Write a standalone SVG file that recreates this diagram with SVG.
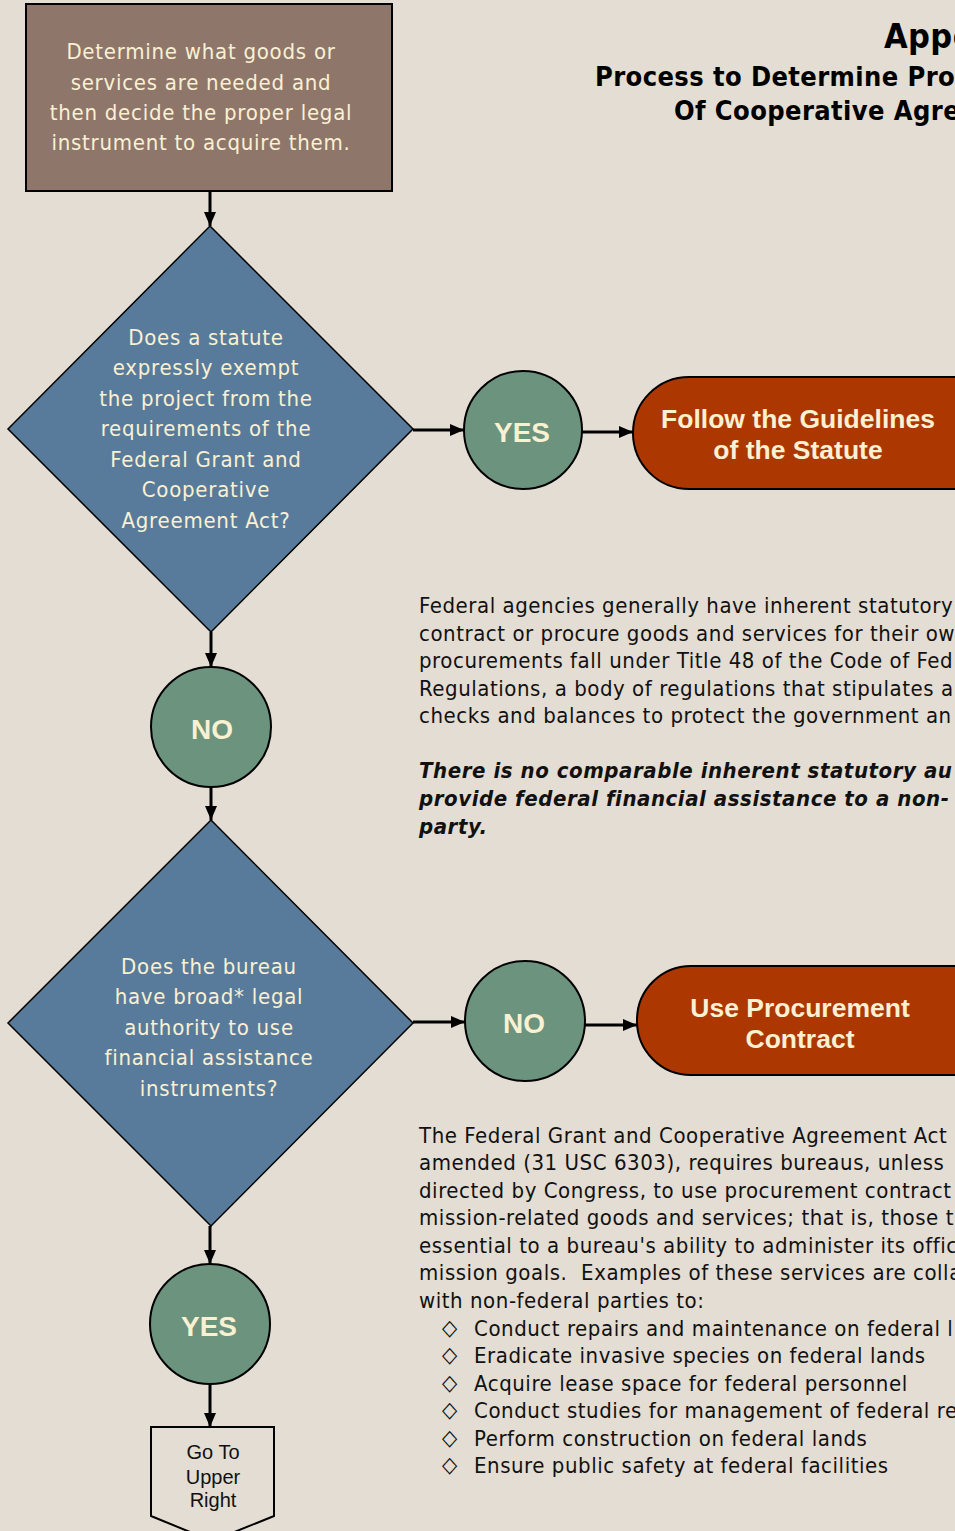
<svg xmlns="http://www.w3.org/2000/svg" width="955" height="1531" viewBox="0 0 955 1531">
<defs>
<marker id="ah" markerWidth="14" markerHeight="12" refX="14" refY="6" orient="auto" markerUnits="userSpaceOnUse">
<path d="M0,0 L14,6 L0,12 Z" fill="#000"/>
</marker>
<style>
.bg{fill:#E4DDD3}
.box{fill:#8E766B;stroke:#000;stroke-width:2}
.dia{fill:#587B9B;stroke:#000;stroke-width:1.5}
.cir{fill:#6C937D;stroke:#000;stroke-width:2}
.term{fill:#AD3700;stroke:#000;stroke-width:2}
.off{fill:#E4DDD3;stroke:#000;stroke-width:2}
.cream{fill:#FAF0D2;font-family:"DejaVu Sans Condensed","DejaVu Sans",sans-serif;font-size:22px;letter-spacing:0.75px;text-anchor:middle}
.cb{fill:#FAF0D2;font-family:"Liberation Sans",Arial,sans-serif;font-weight:bold;text-anchor:middle}
.body{fill:#111;font-family:"DejaVu Sans Condensed","DejaVu Sans",sans-serif;font-size:22px;letter-spacing:0.55px}
.bi{font-weight:bold;font-style:italic}
.title{fill:#000;font-family:"DejaVu Sans Condensed","DejaVu Sans",sans-serif;font-weight:bold;letter-spacing:0.4px}
.conn line{stroke:#000;stroke-width:3;marker-end:url(#ah)}
.go{fill:#111;font-family:"Liberation Sans",Arial,sans-serif;font-size:20px;text-anchor:middle}
</style>
</defs>
<rect class="bg" x="0" y="0" width="955" height="1531"/>

<g id="title">
<text class="title" x="884" y="48" font-size="34">Appe</text>
<text class="title" x="595" y="86" font-size="27">Process to Determine Pro</text>
<text class="title" x="674" y="120" font-size="27">Of Cooperative Agre</text>
</g>

<g id="start">
<rect class="box" x="26" y="4" width="366" height="187"/>
<text class="cream"><tspan x="201" y="59">Determine what goods or</tspan><tspan x="201" y="90">services are needed and</tspan><tspan x="201" y="120">then decide the proper legal</tspan><tspan x="201" y="150">instrument to acquire them.</tspan></text>
</g>

<g id="decision1">
<polygon class="dia" points="210,226 413,429 211,632 8,429"/>
<text class="cream"><tspan x="206" y="345">Does a statute</tspan><tspan x="206" y="375">expressly exempt</tspan><tspan x="206" y="406">the project from the</tspan><tspan x="206" y="436">requirements of the</tspan><tspan x="206" y="467">Federal Grant and</tspan><tspan x="206" y="497">Cooperative</tspan><tspan x="206" y="528">Agreement Act?</tspan></text>
</g>

<g id="yes1">
<circle class="cir" cx="523" cy="430" r="59"/>
<text class="cb" x="522" y="442" font-size="28">YES</text>
</g>

<g id="follow">
<rect class="term" x="633" y="377" width="400" height="112" rx="56" ry="56"/>
<text class="cb" font-size="26.5"><tspan x="798" y="428">Follow the Guidelines</tspan><tspan x="798" y="459">of the Statute</tspan></text>
</g>

<g id="no1">
<circle class="cir" cx="211" cy="727" r="60"/>
<text class="cb" x="212" y="739" font-size="28">NO</text>
</g>

<g id="decision2">
<polygon class="dia" points="211,820 413,1023 211,1226 8,1023"/>
<text class="cream"><tspan x="209" y="974">Does the bureau</tspan><tspan x="209" y="1004">have broad* legal</tspan><tspan x="209" y="1035">authority to use</tspan><tspan x="209" y="1065">financial assistance</tspan><tspan x="209" y="1096">instruments?</tspan></text>
</g>

<g id="no2">
<circle class="cir" cx="525" cy="1021" r="60"/>
<text class="cb" x="524" y="1033" font-size="28">NO</text>
</g>

<g id="procure">
<rect class="term" x="637" y="966" width="400" height="109" rx="54" ry="54"/>
<text class="cb" font-size="26.5"><tspan x="800" y="1017">Use Procurement</tspan><tspan x="800" y="1048">Contract</tspan></text>
</g>

<g id="yes2">
<circle class="cir" cx="210" cy="1324" r="60"/>
<text class="cb" x="209" y="1336" font-size="28">YES</text>
</g>

<g id="goto">
<polygon class="off" points="151,1427 274,1427 274,1516 212,1541 151,1516"/>
<text class="go"><tspan x="213" y="1459">Go To</tspan><tspan x="213" y="1484">Upper</tspan><tspan x="213" y="1507">Right</tspan></text>
</g>

<g id="note1">
<text class="body"><tspan x="419" y="613">Federal agencies generally have inherent statutory</tspan><tspan x="419" y="641">contract or procure goods and services for their own</tspan><tspan x="419" y="668">procurements fall under Title 48 of the Code of Fed</tspan><tspan x="419" y="696">Regulations, a body of regulations that stipulates a</tspan><tspan x="419" y="723">checks and balances to protect the government an</tspan></text>
<text class="body bi"><tspan x="419" y="778">There is no comparable inherent statutory au</tspan><tspan x="419" y="806">provide federal financial assistance to a non-</tspan><tspan x="419" y="834">party.</tspan></text>
</g>

<g id="note2">
<text class="body"><tspan x="419" y="1143">The Federal Grant and Cooperative Agreement Act</tspan><tspan x="419" y="1170">amended (31 USC 6303), requires bureaus, unless</tspan><tspan x="419" y="1198">directed by Congress, to use procurement contract</tspan><tspan x="419" y="1225">mission-related goods and services; that is, those t</tspan><tspan x="419" y="1253">essential to a bureau's ability to administer its offic</tspan><tspan x="419" y="1280" xml:space="preserve">mission goals.  Examples of these services are colla</tspan><tspan x="419" y="1308">with non-federal parties to:</tspan></text>
<text class="body" font-size="18" font-weight="bold"><tspan x="442" y="1335">◇</tspan><tspan x="442" y="1362">◇</tspan><tspan x="442" y="1390">◇</tspan><tspan x="442" y="1417">◇</tspan><tspan x="442" y="1445">◇</tspan><tspan x="442" y="1472">◇</tspan></text>
<text class="body"><tspan x="474" y="1336">Conduct repairs and maintenance on federal l</tspan><tspan x="474" y="1363">Eradicate invasive species on federal lands</tspan><tspan x="474" y="1391">Acquire lease space for federal personnel</tspan><tspan x="474" y="1418">Conduct studies for management of federal re</tspan><tspan x="474" y="1446">Perform construction on federal lands</tspan><tspan x="474" y="1473">Ensure public safety at federal facilities</tspan></text>
</g>

<g id="connectors" class="conn">
<line x1="210" y1="191" x2="210" y2="226"/>
<line x1="413" y1="430" x2="464" y2="430"/>
<line x1="582" y1="432" x2="633" y2="432"/>
<line x1="211" y1="632" x2="211" y2="667"/>
<line x1="211" y1="787" x2="211" y2="820"/>
<line x1="413" y1="1022" x2="465" y2="1022"/>
<line x1="585" y1="1025" x2="637" y2="1025"/>
<line x1="210" y1="1226" x2="210" y2="1264"/>
<line x1="210" y1="1384" x2="210" y2="1427"/>
</g>
</svg>
